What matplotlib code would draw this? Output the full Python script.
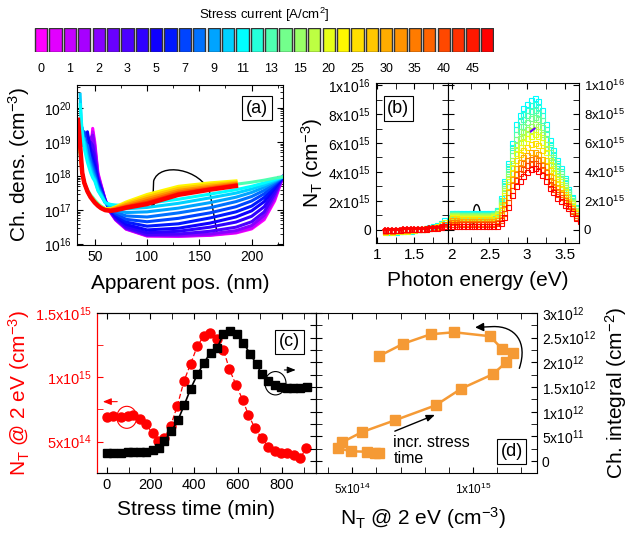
import numpy as np
import matplotlib
matplotlib.use('Agg')
import matplotlib.pyplot as plt
from matplotlib.colors import LinearSegmentedColormap
from matplotlib.patches import Ellipse, FancyArrowPatch
from matplotlib.path import Path
from matplotlib.ticker import MultipleLocator, FixedLocator, FuncFormatter, LogLocator, NullFormatter

plt.rcParams['font.family'] = ['Liberation Sans', 'DejaVu Sans']
plt.rcParams['mathtext.fontset'] = 'custom'
plt.rcParams['mathtext.rm'] = 'Liberation Sans'
plt.rcParams['mathtext.it'] = 'Liberation Sans:italic'
plt.rcParams['mathtext.bf'] = 'Liberation Sans:bold'
plt.rcParams['xtick.direction'] = 'in'
plt.rcParams['ytick.direction'] = 'in'

n = np.nan

# ---- colour bar (stress current) ----
n_stress = 32
stress_labels = ['0', '1', '2', '3', '5', '7', '9', '11', '13', '15',
                 '20', '25', '30', '35', '40', '45']

# ---- (a) charge density profiles, log10(cm^-3) ----
pos_nm = [34, 36, 38, 40, 43, 46, 48, 50, 53, 56, 60, 65, 70, 80, 100, 130, 160, 185, 200, 212, 222, 230]
dens_idx = [0, 2, 4, 6, 7, 8, 9, 10, 11, 12, 13, 14, 16, 19, 21, 23, 25, 27, 29, 31]
dens_log = [
    [n, n, n, n, n, 18.6, 19.4, 19.0, 18.1, 17.75, 17.3, 16.93, 16.71, 16.44, 16.24, 16.23, 16.26, 16.33, 16.45, 16.72, 17.27, 17.98],
    [n, n, n, n, n, 18.8, 19.3, 18.9, 18.05, 17.72, 17.3, 16.94, 16.72, 16.45, 16.25, 16.24, 16.27, 16.35, 16.48, 16.78, 17.33, 17.98],
    [n, n, n, n, 18.7, 19.1, 19.2, 18.8, 18.0, 17.7, 17.29, 16.95, 16.73, 16.46, 16.26, 16.26, 16.3, 16.4, 16.55, 16.85, 17.4, 17.98],
    [n, n, n, n, 18.9, 19.0, 18.9, 18.6, 17.95, 17.67, 17.28, 16.96, 16.75, 16.48, 16.28, 16.3, 16.38, 16.5, 16.66, 16.95, 17.48, 17.98],
    [n, n, n, n, 19.2, 18.8, 18.7, 18.4, 17.9, 17.64, 17.27, 16.98, 16.78, 16.52, 16.34, 16.38, 16.5, 16.65, 16.82, 17.1, 17.56, 17.98],
    [n, n, n, 18.9, 19.3, 18.7, 18.5, 18.3, 17.85, 17.6, 17.26, 17.0, 16.82, 16.58, 16.42, 16.47, 16.62, 16.8, 16.98, 17.25, 17.64, 17.98],
    [n, n, n, 19.1, 18.9, 18.6, 18.4, 18.2, 17.8, 17.57, 17.25, 17.03, 16.86, 16.65, 16.53, 16.6, 16.77, 16.95, 17.12, 17.37, 17.7, 17.98],
    [n, n, 19.2, 19.3, 18.8, 18.5, 18.3, 18.1, 17.75, 17.54, 17.24, 17.05, 16.9, 16.73, 16.66, 16.76, 16.92, 17.1, 17.27, 17.48, 17.76, 17.98],
    [n, n, 19.4, 19.0, 18.9, 18.4, 18.2, 18.0, 17.7, 17.5, 17.23, 17.07, 16.95, 16.83, 16.8, 16.92, 17.07, 17.25, 17.4, 17.58, 17.8, 17.98],
    [n, 19.6, 19.0, 19.1, 18.6, 18.3, 18.1, 17.95, 17.65, 17.47, 17.22, 17.1, 17.0, 16.93, 16.95, 17.06, 17.22, 17.38, 17.52, 17.67, 17.84, 17.98],
    [n, 20.4, 18.9, 19.0, 18.5, 18.2, 18.0, 17.9, 17.6, 17.44, 17.22, 17.13, 17.08, 17.04, 17.08, 17.2, 17.36, 17.5, 17.62, 17.74, 17.87, 17.98],
    [n, 20.1, 19.3, 18.8, 18.4, 18.1, 17.95, 17.85, 17.57, 17.42, 17.22, 17.17, 17.15, 17.14, 17.2, 17.32, 17.47, 17.6, 17.7, 17.8, 17.9, 17.98],
    [19.2, 18.6, 18.1, 17.8, 17.6, 17.45, 17.38, 17.3, 17.2, 17.12, 17.05, 17.03, 17.05, 17.14, 17.3, 17.5, 17.65, 17.76, 17.82, 17.88, 17.94, 17.98],
    [19.3, 18.7, 18.05, 17.78, 17.56, 17.42, 17.34, 17.27, 17.17, 17.1, 17.04, 17.04, 17.08, 17.2, 17.4, 17.62, 17.74, 17.82, n, n, n, n],
    [19.4, 18.75, 18.05, 17.78, 17.55, 17.4, 17.33, 17.25, 17.16, 17.08, 17.03, 17.04, 17.1, 17.24, 17.46, 17.7, 17.8, 17.86, n, n, n, n],
    [19.45, 18.8, 18.08, 17.79, 17.55, 17.39, 17.32, 17.24, 17.15, 17.07, 17.02, 17.03, 17.08, 17.2, 17.4, 17.64, 17.75, 17.82, n, n, n, n],
    [19.5, 18.82, 18.08, 17.79, 17.55, 17.39, 17.31, 17.23, 17.14, 17.07, 17.01, 17.01, 17.06, 17.16, 17.34, 17.58, 17.7, 17.79, n, n, n, n],
    [19.55, 18.85, 18.09, 17.8, 17.55, 17.38, 17.31, 17.23, 17.14, 17.06, 17.0, 17.0, 17.04, 17.12, 17.28, 17.53, 17.66, 17.76, n, n, n, n],
    [19.6, 18.88, 18.1, 17.8, 17.55, 17.38, 17.3, 17.22, 17.13, 17.06, 17.0, 16.99, 17.02, 17.1, 17.23, 17.49, 17.63, 17.74, n, n, n, n],
    [19.65, 18.9, 18.1, 17.8, 17.55, 17.38, 17.3, 17.22, 17.13, 17.06, 17.0, 16.98, 17.0, 17.07, 17.18, 17.45, 17.6, 17.71, n, n, n, n],
]

# ---- (b) trap spectra, units of 1e15 cm^-3 ----
energy_lo = [1.1, 1.15, 1.2, 1.25, 1.3, 1.35, 1.4, 1.45, 1.5, 1.55, 1.6, 1.65, 1.7, 1.75, 1.8, 1.85, 1.9]
spec_lo_idx = [14, 20, 26, 31]
spec_lo = [
    [-0.1, -0.15, -0.1, -0.12, -0.05, -0.08, 0.0, -0.05, 0.02, 0.05, 0.08, 0.12, 0.18, 0.25, 0.35, 0.5, 0.7],
    [-0.15, -0.1, -0.15, -0.1, -0.05, -0.1, -0.05, 0.0, 0.0, 0.05, 0.08, 0.1, 0.15, 0.2, 0.28, 0.4, 0.55],
    [-0.05, 0.0, -0.05, 0.0, 0.02, 0.0, 0.03, 0.05, 0.05, 0.07, 0.1, 0.12, 0.15, 0.18, 0.22, 0.3, 0.4],
    [0.0, 0.02, 0.0, 0.03, 0.03, 0.05, 0.04, 0.06, 0.07, 0.08, 0.1, 0.1, 0.12, 0.14, 0.16, 0.2, 0.25],
]
energy_hi = np.round(np.arange(1.95, 3.71, 0.05), 2)
spec_hi_idx = [14, 15, 16, 17, 18, 19, 20, 22, 24, 26, 28, 31]
spec_hi = [
    [0.9, 1.2, 1.2, 1.15, 1.15, 1.15, 1.15, 1.15, 1.15, 1.15, 1.15, 1.15, 1.2, 1.4, 2.2, 3.4, 4.6, 6.0, 7.3, 7.9, 8.4, 8.7, 9.0, 9.1, 8.9, 8.3, 7.3, 6.2, 5.5, 4.8, 4.3, 3.6, 2.8, 2.3, 1.6, 1.2],
    [0.85, 1.15, 1.15, 1.1, 1.1, 1.1, 1.1, 1.1, 1.1, 1.1, 1.1, 1.1, 1.15, 1.35, 2.1, 3.25, 4.4, 5.7, 7.0, 7.55, 8.0, 8.3, 8.6, 8.7, 8.5, 7.95, 7.0, 5.95, 5.25, 4.6, 4.1, 3.45, 2.7, 2.2, 1.55, 1.15],
    [0.8, 1.1, 1.1, 1.05, 1.05, 1.05, 1.05, 1.05, 1.05, 1.05, 1.05, 1.05, 1.1, 1.3, 2.0, 3.1, 4.2, 5.5, 6.65, 7.2, 7.65, 7.95, 8.2, 8.3, 8.1, 7.6, 6.7, 5.7, 5.0, 4.4, 3.95, 3.3, 2.6, 2.1, 1.5, 1.1],
    [0.8, 1.05, 1.05, 1.0, 1.0, 1.0, 1.0, 1.0, 1.0, 1.0, 1.0, 1.0, 1.05, 1.2, 1.9, 2.9, 3.95, 5.15, 6.25, 6.8, 7.2, 7.45, 7.7, 7.8, 7.65, 7.1, 6.3, 5.35, 4.75, 4.15, 3.7, 3.1, 2.45, 2.0, 1.4, 1.05],
    [0.75, 1.0, 1.0, 0.95, 0.95, 0.95, 0.95, 0.95, 0.95, 0.95, 0.95, 0.95, 1.0, 1.15, 1.8, 2.75, 3.7, 4.8, 5.85, 6.35, 6.75, 7.0, 7.2, 7.3, 7.15, 6.65, 5.9, 5.0, 4.45, 3.9, 3.5, 2.95, 2.35, 1.9, 1.35, 1.0],
    [0.7, 0.95, 0.95, 0.9, 0.9, 0.9, 0.9, 0.9, 0.9, 0.9, 0.9, 0.9, 0.95, 1.1, 1.7, 2.6, 3.55, 4.6, 5.6, 6.1, 6.45, 6.7, 6.9, 7.0, 6.85, 6.4, 5.65, 4.8, 4.25, 3.75, 3.35, 2.85, 2.25, 1.85, 1.3, 0.95],
    [0.65, 0.9, 0.9, 0.85, 0.85, 0.85, 0.85, 0.85, 0.85, 0.85, 0.85, 0.85, 0.9, 1.0, 1.55, 2.4, 3.35, 4.35, 5.3, 5.75, 6.1, 6.35, 6.5, 6.6, 6.45, 6.05, 5.35, 4.55, 4.0, 3.55, 3.15, 2.7, 2.15, 1.75, 1.25, 0.95],
    [0.6, 0.8, 0.8, 0.75, 0.75, 0.75, 0.75, 0.75, 0.75, 0.75, 0.75, 0.75, 0.78, 0.9, 1.35, 2.1, 3.0, 3.95, 4.8, 5.25, 5.55, 5.75, 5.9, 6.0, 5.85, 5.5, 4.85, 4.15, 3.65, 3.25, 2.9, 2.5, 2.0, 1.6, 1.15, 0.9],
    [0.5, 0.66, 0.66, 0.62, 0.62, 0.62, 0.62, 0.62, 0.62, 0.62, 0.62, 0.62, 0.64, 0.72, 1.1, 1.8, 2.6, 3.5, 4.3, 4.7, 5.0, 5.2, 5.35, 5.4, 5.25, 4.9, 4.4, 3.75, 3.3, 2.95, 2.65, 2.3, 1.85, 1.5, 1.05, 0.8],
    [0.45, 0.52, 0.52, 0.5, 0.5, 0.5, 0.5, 0.5, 0.5, 0.5, 0.5, 0.5, 0.5, 0.58, 0.9, 1.5, 2.25, 3.1, 3.85, 4.3, 4.6, 4.8, 4.92, 4.95, 4.8, 4.5, 4.0, 3.45, 3.05, 2.7, 2.45, 2.1, 1.75, 1.4, 1.0, 0.75],
    [0.38, 0.42, 0.42, 0.4, 0.4, 0.4, 0.4, 0.4, 0.4, 0.4, 0.4, 0.4, 0.4, 0.45, 0.7, 1.2, 1.9, 2.75, 3.45, 3.9, 4.2, 4.45, 4.6, 4.65, 4.5, 4.2, 3.75, 3.2, 2.85, 2.5, 2.25, 1.95, 1.65, 1.3, 0.9, 0.68],
    [0.3, 0.3, 0.3, 0.28, 0.27, 0.26, 0.25, 0.25, 0.25, 0.25, 0.25, 0.25, 0.25, 0.3, 0.5, 0.9, 1.6, 2.4, 3.0, 3.4, 3.7, 4.0, 4.2, 4.25, 4.1, 3.8, 3.4, 2.9, 2.6, 2.2, 2.0, 1.7, 1.5, 1.2, 0.8, 0.6],
]
violet_e = [3.05, 3.1]
violet_v = [6.8, 7.0]

# ---- (c) N_T @ 2 eV and charge integral vs stress time ----
time_red = [0, 30, 64, 96, 122, 152, 178, 210, 236, 264, 293, 323, 354, 384, 415, 445,
            472, 503, 534, 561, 591, 622, 648, 678, 709, 739, 770, 797, 826, 857, 884, 912]
nt_red = [6.90e14, 7.03e14, 6.90e14, 7.00e14, 7.08e14, 6.79e14, 6.38e14, 5.65e14, 5.08e14, 5.26e14,
          6.25e14, 7.78e14, 9.73e14, 1.105e15, 1.245e15, 1.323e15, 1.344e15, 1.297e15, 1.214e15,
          1.064e15, 9.42e14, 8.25e14, 7.08e14, 6.04e14, 5.26e14, 4.61e14, 4.30e14, 4.09e14,
          4.09e14, 3.96e14, 3.70e14, 4.48e14]
time_blk = [0, 30, 64, 96, 122, 152, 178, 210, 241, 264, 296, 326, 354, 384, 415, 445,
            475, 506, 533, 564, 594, 625, 655, 686, 709, 739, 770, 797, 826, 853, 884, 914]
chint_blk = [1.69e11, 1.69e11, 1.69e11, 1.76e11, 1.82e11, 1.82e11, 1.89e11, 2.23e11, 2.70e11,
             4.05e11, 6.08e11, 8.31e11, 1.128e12, 1.466e12, 1.757e12, 1.993e12, 2.196e12,
             2.297e12, 2.568e12, 2.635e12, 2.581e12, 2.399e12, 2.176e12, 1.959e12, 1.757e12,
             1.622e12, 1.534e12, 1.500e12, 1.486e12, 1.480e12, 1.486e12, 1.507e12]

# ---- (d) charge integral vs N_T @ 2 eV ----
nt_d = [6.10e14, 5.96e14, 5.62e14, 4.96e14, 4.42e14, 4.59e14, 5.41e14, 6.78e14, 8.45e14, 9.52e14,
        1.082e15, 1.137e15, 1.167e15, 1.119e15, 1.070e15, 9.22e14, 8.25e14, 7.12e14, 6.12e14]
chint_d = [1.7e11, 1.7e11, 1.9e11, 2.0e11, 2.6e11, 3.85e11, 5.9e11, 8.3e11, 1.13e12, 1.47e12,
           1.76e12, 2.00e12, 2.20e12, 2.28e12, 2.53e12, 2.61e12, 2.57e12, 2.38e12, 2.13e12]

cmap = LinearSegmentedColormap.from_list(
    'stress', [(0, '#ff00ff'), (8.5 / 31, '#0000ff'), (14 / 31, '#00ffff'),
               (20.7 / 31, '#ffff00'), (1, '#ff0000')])


def col(i):
    return cmap(i / (n_stress - 1))


def sci(v, pos=None):
    if abs(v) < 1e-3:
        return '0'
    e = int(np.floor(np.log10(abs(v)) + 1e-9))
    m = round(v / 10 ** e, 2)
    return '%gx10$^{%d}$' % (m, e)


def curved_arrow(ax, verts, codes, color='k'):
    p = FancyArrowPatch(path=Path(verts, codes), arrowstyle='-|>,head_length=5,head_width=2.5',
                        color=color, lw=1.0, transform=ax.transAxes, clip_on=False)
    ax.add_patch(p)


W, H = 630, 533
fig = plt.figure(figsize=(W / 100, H / 100), dpi=100)


def box(x0, y0, x1, y1):
    return [x0 / W, 1 - y1 / H, (x1 - x0) / W, (y1 - y0) / H]


ax_cb = fig.add_axes(box(34, 28, 494, 52))
ax_a = fig.add_axes(box(77, 85, 283, 245))
ax_b1 = fig.add_axes(box(376, 83, 448, 243))
ax_b2 = fig.add_axes(box(448, 83, 579, 243))
ax_c = fig.add_axes(box(97, 313, 316, 473))
ax_d = fig.add_axes(box(316, 313, 537, 473))

label_box = dict(boxstyle='square,pad=0.2', fc='white', ec='black', lw=0.8)

# colour bar
idx = np.arange(n_stress)
ax_cb.bar(idx, 1, width=0.86, color=[col(i) for i in idx], edgecolor='#333333', linewidth=1.0)
ax_cb.set_xlim(-0.5, n_stress - 0.5)
ax_cb.set_ylim(0, 1)
ax_cb.set_xticks(idx[::2])
ax_cb.set_xticklabels(stress_labels, fontsize=9)
ax_cb.tick_params(length=0, pad=8)
ax_cb.set_yticks([])
for s in ax_cb.spines.values():
    s.set_visible(False)
fig.text(264 / W, 1 - 15 / H, 'Stress current [A/cm$^2$]', ha='center', va='center', fontsize=9.5)

# (a)
for i, row in zip(dens_idx, dens_log):
    ax_a.plot(pos_nm, 10 ** np.array(row), color=col(i), lw=3.2 if i == 31 else 2.2)
ax_a.set_yscale('log')
ax_a.set_xlim(33, 230)
ax_a.set_ylim(0.95e16, 4.7e20)
ax_a.xaxis.set_major_locator(FixedLocator([50, 100, 150, 200]))
ax_a.xaxis.set_minor_locator(MultipleLocator(25))
ax_a.yaxis.set_major_locator(LogLocator(base=10, numticks=10))
ax_a.yaxis.set_minor_locator(LogLocator(base=10, subs=np.arange(2, 10), numticks=20))
ax_a.yaxis.set_minor_formatter(NullFormatter())
ax_a.tick_params(which='both', top=True, right=True, labelsize=10)
ax_a.tick_params(which='major', length=4)
ax_a.tick_params(which='minor', length=2)
ax_a.set_xlabel('Apparent pos. (nm)', fontsize=15)
ax_a.set_ylabel('Ch. dens. (cm$^{-3}$)', fontsize=15)
ax_a.xaxis.set_label_coords(0.5, -0.18)
ax_a.yaxis.set_label_coords(-0.218, 0.5)
ax_a.text(0.874, 0.856, '(a)', transform=ax_a.transAxes, ha='center', va='center',
          fontsize=13, bbox=label_box)
curved_arrow(ax_a, [(0.681, 0.067), (0.646, 0.323), (0.60, 0.48), (0.40, 0.52), (0.372, 0.40), (0.367, 0.229)],
             [Path.MOVETO, Path.LINETO, Path.CURVE4, Path.CURVE4, Path.CURVE4, Path.LINETO])

# (b)
for i, row in zip(spec_lo_idx, spec_lo):
    ax_b1.plot(energy_lo, np.array(row) * 1e15, ls='none', marker='s', ms=3.6,
               mfc='none', mec=col(i), mew=0.8)
ax_b1.plot(energy_lo, np.array(spec_lo[-1]) * 1e15, ls='none', marker='+', ms=5, mec='red', mew=1.2)
for i, row in zip(spec_hi_idx, spec_hi):
    ax_b2.plot(energy_hi, np.array(row) * 1e15, ls='none', marker='s', ms=3.6,
               mfc='none', mec=col(i), mew=0.8)
ax_b2.plot(violet_e, np.array(violet_v) * 1e15, color=col(5), lw=1.5)
for ax in (ax_b1, ax_b2):
    ax.set_ylim(-0.9e15, 1.014e16)
    ax.yaxis.set_major_locator(MultipleLocator(2e15))
    ax.yaxis.set_minor_locator(MultipleLocator(1e15))
    ax.yaxis.set_major_formatter(FuncFormatter(sci))
    ax.tick_params(which='both', top=True, left=True, right=True, labelsize=10)
    ax.tick_params(which='major', length=4)
    ax.tick_params(which='minor', length=4)
ax_b1.set_xlim(0.985, 1.95)
ax_b2.set_xlim(1.95, 3.69)
ax_b1.xaxis.set_major_locator(FixedLocator([1, 1.5]))
ax_b1.xaxis.set_minor_locator(FixedLocator([1.25, 1.75]))
ax_b2.xaxis.set_major_locator(FixedLocator([2, 2.5, 3, 3.5]))
ax_b2.xaxis.set_minor_locator(FixedLocator([2.25, 2.75, 3.25]))
ax_b1.xaxis.set_major_formatter(FuncFormatter(lambda v, p: '%g' % v))
ax_b2.xaxis.set_major_formatter(FuncFormatter(lambda v, p: '%g' % v))
ax_b1.tick_params(axis='x', labelsize=11)
ax_b2.tick_params(axis='x', labelsize=11)
ax_b1.tick_params(axis='y', labelright=False)
ax_b2.tick_params(axis='y', labelleft=False, labelright=True, labelsize=9.5)
ax_b1.set_ylabel('N$_\\mathrm{T}$ (cm$^{-3}$)', fontsize=15)
ax_b1.yaxis.set_label_coords(-0.71, 0.5)
fig.text(478 / W, 1 - 280 / H, 'Photon energy (eV)', ha='center', va='center', fontsize=15)
ax_b1.text(0.31, 0.84, '(b)', transform=ax_b1.transAxes, ha='center', va='center',
           fontsize=13, bbox=label_box)
curved_arrow(ax_b2, [(0.245, 0.16), (0.25, 0.25), (0.20, 0.27), (0.195, 0.19), (0.19, 0.105)],
             [Path.MOVETO, Path.CURVE4, Path.CURVE4, Path.CURVE4, Path.LINETO])

# (c)
ax_c.plot(time_red, nt_red, color='red', ls=(0, (4, 2)), lw=0.9, marker='o', ms=6.5,
          mfc='red', mec='red')
ax_c.set_xlim(-44, 957)
ax_c.set_ylim(2.56e14, 1.5e15)
ax_c.xaxis.set_major_locator(MultipleLocator(200))
ax_c.xaxis.set_minor_locator(MultipleLocator(100))
ax_c.yaxis.set_major_locator(MultipleLocator(5e14))
ax_c.yaxis.set_minor_locator(MultipleLocator(2.5e14))
ax_c.yaxis.set_major_formatter(FuncFormatter(sci))
ax_c.tick_params(which='both', top=True, labelsize=10.5, length=4)
ax_c.tick_params(axis='y', which='both', colors='red', labelsize=10.5)
ax_c.spines['left'].set_color('red')
ax_c.set_xlabel('Stress time (min)', fontsize=15)
ax_c.set_ylabel('N$_\\mathrm{T}$ @ 2 eV (cm$^{-3}$)', fontsize=15, color='red')
ax_c.xaxis.set_label_coords(0.452, -0.17)
ax_c.yaxis.set_label_coords(-0.297, 0.5)

ax_c2 = ax_c.twinx()
ax_c2.plot(time_blk, chint_blk, color='black', lw=1.2, marker='s', ms=6)
ax_c2.set_ylim(-2.4e11, 3.0e12)
ax_c2.yaxis.set_major_locator(MultipleLocator(2.5e11))
ax_c2.tick_params(axis='y', which='both', labelright=False, length=4)
ax_c2.spines['left'].set_color('red')
ax_c2.text(0.879, 0.82, '(c)', transform=ax_c2.transAxes, ha='center', va='center',
           fontsize=13, bbox=label_box)
ax_c2.add_patch(Ellipse((0.136, 0.348), 0.091, 0.1375, transform=ax_c2.transAxes,
                        fill=False, ec='red', lw=0.8))
ax_c2.annotate('', xy=(0.014, 0.446), xytext=(0.105, 0.446), xycoords='axes fraction',
               arrowprops=dict(arrowstyle='-|>,head_length=0.5,head_width=0.2', color='red', lw=0.8))
ax_c2.add_patch(Ellipse((0.815, 0.561), 0.096, 0.146, transform=ax_c2.transAxes,
                        fill=False, ec='black', lw=0.8))
ax_c2.annotate('', xy=(0.92, 0.644), xytext=(0.843, 0.644), xycoords='axes fraction',
               arrowprops=dict(arrowstyle='-|>,head_length=0.5,head_width=0.2', color='black', lw=0.8))

# (d)
orange = '#f59a35'
ax_d.plot(nt_d, chint_d, color=orange, lw=1.8, marker='s', ms=6.5)
ax_d.set_xlim(3.5e14, 1.265e15)
ax_d.set_ylim(-2.4e11, 3.0e12)
ax_d.xaxis.set_major_locator(FixedLocator([5e14, 1e15]))
ax_d.xaxis.set_minor_locator(MultipleLocator(1e14))
ax_d.xaxis.set_major_formatter(FuncFormatter(sci))
ax_d.yaxis.set_major_locator(MultipleLocator(5e11))
ax_d.yaxis.set_minor_locator(MultipleLocator(2.5e11))
ax_d.yaxis.set_major_formatter(FuncFormatter(sci))
ax_d.tick_params(which='both', top=True, left=True, right=True, labelleft=False,
                 labelright=True, length=4)
ax_d.tick_params(axis='x', labelsize=8.5, pad=6)
ax_d.tick_params(axis='y', labelsize=10)
ax_d.set_xlabel('N$_\\mathrm{T}$ @ 2 eV (cm$^{-3}$)', fontsize=15)
ax_d.xaxis.set_label_coords(0.484, -0.2)
ax_d.yaxis.set_label_position('right')
ax_d.set_ylabel('Ch. integral (cm$^{-2}$)', fontsize=15)
ax_d.yaxis.set_label_coords(1.3, 0.5)
ax_d.text(0.885, 0.134, '(d)', transform=ax_d.transAxes, ha='center', va='center',
          fontsize=13, bbox=label_box)
ax_d.text(0.35, 0.2375, 'incr. stress\ntime', transform=ax_d.transAxes, ha='left', va='top',
          fontsize=11.5, linespacing=1.1)
ax_d.annotate('', xy=(0.55, 0.37), xytext=(0.345, 0.255), xycoords='axes fraction',
              arrowprops=dict(arrowstyle='-|>,head_length=0.5,head_width=0.2', color='black', lw=1))
curved_arrow(ax_d, [(0.92, 0.654), (0.96, 0.82), (0.90, 0.92), (0.80, 0.915), (0.72, 0.91)],
             [Path.MOVETO, Path.CURVE4, Path.CURVE4, Path.CURVE4, Path.LINETO])

fig.savefig('out.png', dpi=100)
